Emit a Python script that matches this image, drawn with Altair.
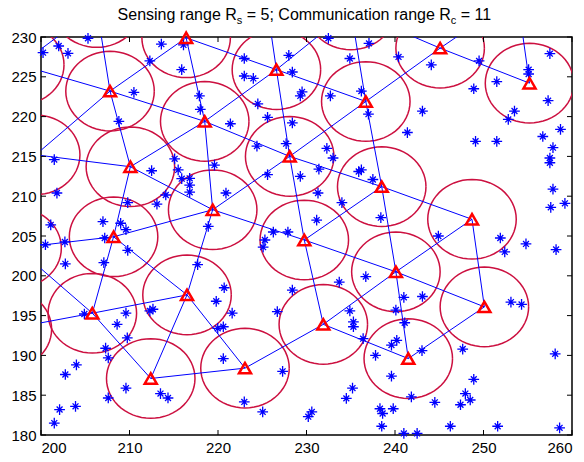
import altair as alt
import pandas as pd

# ---------------- data ----------------
R_S = 5  # sensing range (circle radius, data units)

node_names = ["A", "B", "C", "D", "E", "F", "G", "H", "I", "J", "K", "L", "M", "N",
              "O", "P", "Q", "R", "S", "T", "U", "V", "W",
              "Y1", "Y2", "Y3", "X1", "Z0", "Z1", "Z2"]
node_x = [216.4, 207.8, 199.4, 226.6, 236.7, 255.2, 245.1, 218.5, 228.1, 210.1, 238.5, 219.4, 229.75, 248.7,
          208.2, 240.1, 216.5, 205.8, 250.1, 231.9, 212.4, 223.05, 241.5,
          197.6, 197.3, 196.2, 206.3, 225.2, 235.0, 253.8]
node_y = [229.9, 223.2, 215.2, 225.9, 221.9, 224.2, 228.6, 219.4, 215.0, 213.7, 211.2, 208.3, 204.5, 207.1,
          204.9, 200.5, 197.6, 195.3, 196.1, 193.9, 187.1, 188.4, 189.6,
          226.5, 203.5, 193.3, 233.7, 236.5, 233.4, 235.2]

edge_from = ["Y1", "X1", "X1", "A", "B", "B", "B", "C", "A", "A", "D", "D", "D", "D", "D",
             "Z1", "Z1", "E", "E", "E", "G", "G", "F", "H", "H", "H", "J", "J", "I", "I", "I",
             "K", "K", "K", "L", "L", "L", "M", "M", "N", "N", "O", "O", "O", "R", "R", "R",
             "R", "Q", "Q", "U", "V", "T", "T", "P", "P", "S"]
edge_to = ["B", "B", "Y1", "B", "C", "H", "J", "J", "H", "D", "H", "E", "I", "Z0", "Z1",
           "E", "G", "I", "K", "G", "F", "Z2", "Z2", "J", "I", "L", "L", "O", "L", "K", "M",
           "N", "P", "M", "O", "Q", "M", "P", "T", "P", "S", "Y2", "R", "Q", "Y2", "Y3", "Q",
           "U", "U", "V", "V", "T", "P", "W", "S", "W", "W"]

star_x = [205.31, 200.23, 202.0, 203.05, 213.6, 216.1, 212.3, 215.9, 210.5, 217.9, 218.0, 208.8, 201.5, 212.5,
          215.1, 215.5, 215.9, 216.8, 216.8, 216.8, 214.1, 213.1, 209.8, 201.8, 207.0, 209.0, 209.6, 201.1,
          219.6, 218.9,
          232.47, 237.06, 234.9, 222.97, 228.0, 222.97, 223.99, 228.4, 229.5, 229.3, 232.7, 236.2, 224.5,
          237.0, 221.4, 225.6, 228.4, 227.7, 224.4, 232.3, 233.0, 225.6, 229.3, 231.4, 235.9, 236.2, 237.5,
          220.9, 231.3, 234.0, 238.4, 231.15, 226.25, 227.9,
          240.4, 244.1, 249.5, 248.9, 251.5, 255.1, 255.1, 257.5, 257.3, 253.5, 252.8, 243.1, 241.4, 249.1,
          251.5, 256.7, 258.7, 257.85, 257.5, 257.5, 257.85, 257.6, 259.2,
          200.5, 202.7, 207.2, 209.8, 202.75, 207.1, 217.7, 209.6, 204.9, 208.6, 209.75, 207.3, 207.6,
          204.0, 202.75, 219.8, 212.65, 212.3, 209.6, 207.6, 213.5, 214.35, 203.9, 202.1, 201.5,
          225.3, 225.1, 220.7, 221.6, 220.6, 219.97, 228.4, 226.7, 233.7, 236.7, 220.6, 227.3, 222.97,
          225.05, 230.6, 230.2, 234.5, 235.2, 234.9, 235.3, 235.3, 236.4, 237.8, 239.6, 239.6, 238.3,
          238.6, 238.5, 239.8,
          244.9, 251.9, 252.4, 254.8, 258.2, 241.0, 243.1, 240.1, 241.1, 240.2, 243.05, 253.1, 254.3,
          247.65, 258.1, 248.9, 247.95, 248.5, 247.4, 244.5, 241.85, 246.25, 251.6, 258.6, 241.0, 242.5]
star_y = [229.84, 228.03, 228.87, 227.95, 229.1, 229.0, 227.0, 225.9, 223.05, 222.6, 220.9, 219.4, 214.6, 213.2,
          214.7, 213.3, 212.2, 212.25, 211.4, 210.5, 210.15, 209.0, 209.2, 210.4, 206.8, 206.6, 205.8, 206.4,
          213.9, 206.2,
          229.84, 229.2, 227.3, 227.3, 227.7, 225.1, 224.8, 225.6, 223.1, 222.6, 222.6, 223.2, 221.6,
          220.3, 219.1, 219.9, 219.2, 216.6, 216.3, 216.0, 214.8, 212.7, 212.5, 213.4, 213.1, 213.3, 212.1,
          210.4, 210.4, 209.2, 207.3, 207.0, 205.5, 205.5,
          227.5, 226.5, 227.0, 223.5, 224.4, 225.9, 225.35, 227.9, 222.0, 220.7, 219.65, 220.7, 218.0, 216.9,
          216.9, 217.5, 218.4, 216.1, 214.8, 214.2, 210.9, 208.6, 209.1,
          203.9, 204.25, 204.75, 203.2, 201.5, 201.65, 201.4, 195.3, 195.2, 193.9, 192.2, 190.9, 189.7,
          188.8, 187.6, 196.8, 195.8, 195.6, 185.9, 184.65, 185.2, 184.65, 183.6, 183.2, 181.5,
          204.5, 203.6, 198.5, 195.3, 193.6, 193.4, 198.2, 195.5, 199.2, 199.9, 189.6, 188.0, 184.15,
          182.9, 182.9, 182.3, 184.6, 185.9, 195.6, 194.2, 193.6, 192.1, 190.0, 191.3, 187.4, 183.3,
          182.7, 181.1, 183.3,
          205.0, 204.75, 203.0, 204.0, 203.3, 197.3, 197.4, 195.7, 194.1, 191.9, 190.6, 196.7, 196.4,
          190.8, 190.2, 187.0, 185.2, 184.4, 183.8, 184.1, 184.8, 181.1, 181.1, 180.9, 180.2, 180.2]

x_ticks = [200, 210, 220, 230, 240, 250, 260]
y_ticks = [180, 185, 190, 195, 200, 205, 210, 215, 220, 225, 230]

title_parts = ["Sensing range R", "s", "= 5; Communication range R", "c", "= 11"]

# ---------------- tables ----------------
nodes = pd.DataFrame({"name": node_names, "x": node_x, "y": node_y})
pos = dict(zip(node_names, zip(node_x, node_y)))
edges = pd.DataFrame({
    "x": [pos[a][0] for a in edge_from], "y": [pos[a][1] for a in edge_from],
    "x2": [pos[b][0] for b in edge_to], "y2": [pos[b][1] for b in edge_to],
})
stars = pd.DataFrame({"x": star_x, "y": star_y})
xt = pd.DataFrame({"v": x_ticks})
yt = pd.DataFrame({"v": y_ticks})

W, H = 531, 398
FONT = "Liberation Sans"
xs = alt.Scale(domain=[200, 260], nice=False, zero=False)
ys = alt.Scale(domain=[180, 230], nice=False, zero=False)
xaxis = alt.Axis(values=x_ticks, ticks=False, domain=False, grid=False, labelFontSize=15,
                 labelFont=FONT, labelColor="black", labelPadding=5, title=None, format="d",
                 labelOverlap=False)
yaxis = alt.Axis(values=y_ticks, ticks=False, domain=False, grid=False, labelFontSize=15,
                 labelFont=FONT, labelColor="black", labelPadding=5, title=None, format="d",
                 labelOverlap=False)

circles = alt.Chart(nodes).transform_calculate(
    ang="sequence(0, 366, 6)"
).transform_flatten(["ang"]).transform_calculate(
    cx=f"datum.x + {R_S} * cos(datum.ang * PI / 180)",
    cy=f"datum.y + {R_S} * sin(datum.ang * PI / 180)",
).mark_line(clip=True, color="#CC1040", strokeWidth=1.5).encode(
    x=alt.X("cx:Q", scale=xs, axis=xaxis),
    y=alt.Y("cy:Q", scale=ys, axis=yaxis),
    detail="name:N",
    order="ang:Q",
)

links = alt.Chart(edges).mark_rule(clip=True, color="#0000FF", strokeWidth=1).encode(
    x=alt.X("x:Q", scale=xs, axis=xaxis), y=alt.Y("y:Q", scale=ys, axis=yaxis),
    x2="x2:Q", y2="y2:Q",
)

STAR = "M-1,0L1,0M0,-1L0,1M-0.55,-0.55L0.55,0.55M-0.55,0.55L0.55,-0.55"
pts = alt.Chart(stars).mark_point(shape=STAR, size=115, color="#0000FF", strokeWidth=1.3,
                                  filled=False, opacity=1).encode(
    x=alt.X("x:Q", scale=xs, axis=xaxis), y=alt.Y("y:Q", scale=ys, axis=yaxis),
)

tri = alt.Chart(nodes).transform_filter(
    "datum.x >= 200 && datum.x <= 260 && datum.y >= 180 && datum.y <= 230"
).mark_point(shape="triangle-up", size=145, color="#FF0000", strokeWidth=2.5,
             filled=False, opacity=1).encode(
    x=alt.X("x:Q", scale=xs, axis=xaxis), y=alt.Y("y:Q", scale=ys, axis=yaxis),
)

TL = 5
tick_layers = [
    alt.Chart(xt).mark_rule(color="black", strokeWidth=1).encode(
        x=alt.X("v:Q", scale=xs, axis=xaxis), y=alt.value(H), y2=alt.value(H - TL)),
    alt.Chart(xt).mark_rule(color="black", strokeWidth=1).encode(
        x=alt.X("v:Q", scale=xs, axis=xaxis), y=alt.value(0), y2=alt.value(TL)),
    alt.Chart(yt).mark_rule(color="black", strokeWidth=1).encode(
        y=alt.Y("v:Q", scale=ys, axis=yaxis), x=alt.value(0), x2=alt.value(TL)),
    alt.Chart(yt).mark_rule(color="black", strokeWidth=1).encode(
        y=alt.Y("v:Q", scale=ys, axis=yaxis), x=alt.value(W), x2=alt.value(W - TL)),
]

# title pieces (with subscripts)
t_x = [76.6, 195.8, 205.75, 409.8, 419.8]
t_y = [-17, -13, -17, -13, -17]
t_size = [16, 11, 16, 11, 16]
title_layers = [
    alt.Chart(pd.DataFrame({"t": [p]})).mark_text(
        align="left", baseline="alphabetic", font=FONT, fontSize=s, color="black"
    ).encode(text="t:N", x=alt.value(xx), y=alt.value(yy))
    for p, xx, yy, s in zip(title_parts, t_x, t_y, t_size)
]

chart = alt.layer(circles, links, pts, tri, *tick_layers, *title_layers).properties(
    width=W, height=H,
    padding={"left": 41, "top": 37, "right": 12, "bottom": 27},
    autosize=alt.AutoSizeParams(type="none"),
    background="white",
).configure_view(stroke="black", strokeWidth=1.5)

chart.save("out.html", embed_options={"renderer": "svg", "actions": False})
